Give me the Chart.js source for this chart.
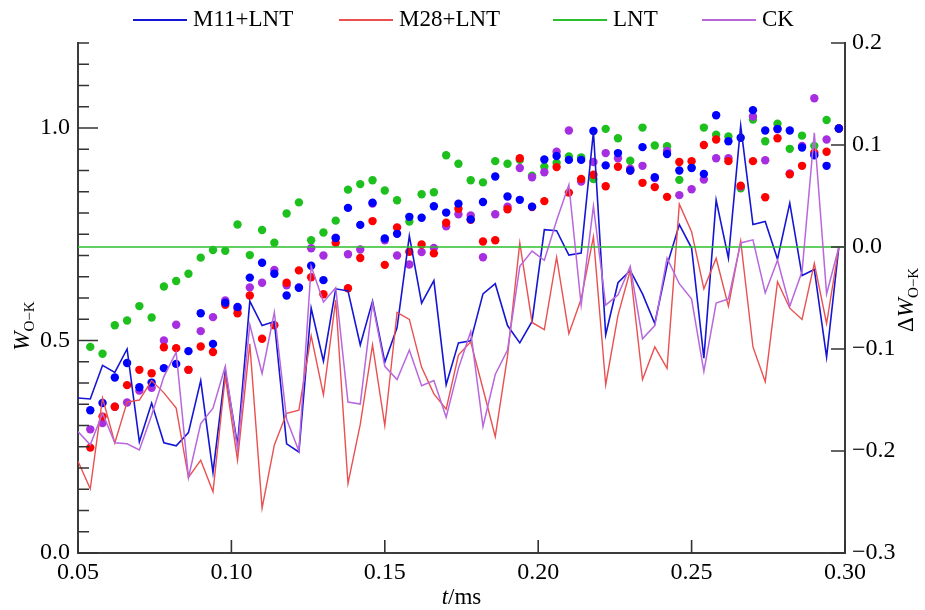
<!DOCTYPE html>
<html>
<head>
<meta charset="utf-8">
<script src="https://cdn.jsdelivr.net/npm/chart.js@4.4.1/dist/chart.umd.min.js"></script>
<style>
  body { margin: 0; background: #fff; }
  #wrap { position: relative; width: 925px; height: 610px; }
  .leg { position: absolute; top: 5px; font: 23px "Liberation Serif", serif; color: #000; line-height: 28px; white-space: nowrap; }
  .leg span { display: inline-block; width: 54px; height: 2px; vertical-align: middle; margin-right: 6px; position: relative; top: -1px; }
</style>
</head>
<body>
<div id="wrap">
  <canvas id="myChart" width="925" height="610"></canvas>
  <div class="leg" style="left:133px"><span style="background:#1515d5"></span>M11+LNT</div>
  <div class="leg" style="left:339px"><span style="background:#ea5050"></span>M28+LNT</div>
  <div class="leg" style="left:553px"><span style="background:#2cbf2c"></span>LNT</div>
  <div class="leg" style="left:702px"><span style="background:#b868dc"></span>CK</div>
</div>
<script>
// t (ms) of the dots
const tDots = [0.054, 0.058, 0.062, 0.066, 0.070, 0.074, 0.078, 0.082, 0.086, 0.090,
  0.094, 0.098, 0.102, 0.106, 0.110, 0.114, 0.118, 0.122, 0.126, 0.130,
  0.134, 0.138, 0.142, 0.146, 0.150, 0.154, 0.158, 0.162, 0.166, 0.170,
  0.174, 0.178, 0.182, 0.186, 0.190, 0.194, 0.198, 0.202, 0.206, 0.210,
  0.214, 0.218, 0.222, 0.226, 0.230, 0.234, 0.238, 0.242, 0.246, 0.250,
  0.254, 0.258, 0.262, 0.266, 0.270, 0.274, 0.278, 0.282, 0.286, 0.290,
  0.294, 0.298];
// the difference curves start one step earlier
const tLine = [0.050].concat(tDots);

// W O-K (left axis)
const wLNT = [0.485, 0.469, 0.536, 0.547, 0.581, 0.554, 0.627, 0.640, 0.657, 0.695,
  0.713, 0.711, 0.773, 0.701, 0.760, 0.730, 0.799, 0.825, 0.736, 0.754,
  0.782, 0.855, 0.868, 0.877, 0.853, 0.830, 0.780, 0.844, 0.849, 0.936,
  0.916, 0.877, 0.872, 0.922, 0.916, 0.925, 0.888, 0.909, 0.918, 0.933,
  0.931, 0.880, 0.998, 0.976, 0.923, 1.001, 0.959, 0.957, 0.878, 0.907,
  1.001, 0.984, 0.980, 0.858, 1.020, 0.969, 1.010, 0.951, 0.982, 0.958,
  1.019, 0.999];
const wM11 = [0.336, 0.353, 0.413, 0.447, 0.390, 0.401, 0.435, 0.445, 0.475, 0.564,
  0.492, 0.589, 0.579, 0.648, 0.683, 0.657, 0.606, 0.624, 0.676, 0.642,
  0.741, 0.812, 0.772, 0.824, 0.740, 0.751, 0.791, 0.789, 0.816, 0.801,
  0.822, 0.785, 0.826, 0.886, 0.839, 0.831, 0.815, 0.926, 0.934, 0.925,
  0.925, 0.993, 0.912, 0.941, 0.900, 0.955, 0.884, 0.939, 0.900, 0.906,
  0.892, 1.030, 0.969, 0.977, 1.042, 0.994, 0.998, 0.994, 0.954, 0.936,
  0.911, 0.999];
const wM28 = [0.248, 0.321, 0.344, 0.395, 0.431, 0.423, 0.484, 0.482, 0.431, 0.486,
  0.473, 0.584, 0.564, 0.606, 0.504, 0.536, 0.636, 0.665, 0.649, 0.609,
  0.730, 0.623, 0.694, 0.781, 0.678, 0.766, 0.709, 0.726, 0.705, 0.777,
  0.810, 0.784, 0.733, 0.736, 0.809, 0.929, 0.814, 0.828, 0.908, 0.848,
  0.880, 0.890, 0.863, 0.909, 0.900, 0.871, 0.861, 0.838, 0.920, 0.922,
  0.960, 0.973, 0.922, 0.864, 0.922, 0.837, 0.976, 0.891, 0.911, 0.942,
  0.944, 0.999];
const wCK = [0.291, 0.306, 0.344, 0.354, 0.382, 0.389, 0.500, 0.537, 0.431, 0.522,
  0.555, 0.594, 0.575, 0.625, 0.636, 0.666, 0.630, 0.625, 0.717, 0.700,
  0.742, 0.703, 0.714, 0.822, 0.736, 0.700, 0.679, 0.708, 0.718, 0.769,
  0.797, 0.794, 0.696, 0.797, 0.815, 0.906, 0.884, 0.896, 0.944, 0.994,
  0.874, 0.920, 0.941, 0.929, 0.904, 0.911, 0.882, 0.946, 0.842, 0.856,
  0.879, 0.929, 0.929, 0.862, 1.027, 0.924, 0.997, 0.893, 0.958, 1.070,
  0.973, 0.999];

// delta W O-K (right axis)
const dM11 = [-0.148, -0.149, -0.116, -0.123, -0.100, -0.191, -0.153, -0.192, -0.195, -0.182, -0.131,
  -0.221, -0.122, -0.194, -0.053, -0.077, -0.073, -0.193, -0.201, -0.060, -0.112,
  -0.041, -0.043, -0.096, -0.053, -0.113, -0.079, 0.011, -0.055, -0.033, -0.135,
  -0.094, -0.092, -0.046, -0.036, -0.077, -0.094, -0.073, 0.017, 0.016, -0.008,
  -0.006, 0.113, -0.086, -0.035, -0.023, -0.046, -0.075, -0.018, 0.022, -0.001,
  -0.109, 0.046, -0.011, 0.119, 0.022, 0.025, -0.012, 0.043, -0.028, -0.022,
  -0.108, 0.000];
const dM28 = [-0.210, -0.237, -0.148, -0.192, -0.152, -0.150, -0.131, -0.143, -0.158, -0.226, -0.209,
  -0.240, -0.127, -0.209, -0.095, -0.256, -0.194, -0.163, -0.160, -0.087, -0.145,
  -0.052, -0.232, -0.174, -0.096, -0.175, -0.064, -0.071, -0.118, -0.144, -0.159,
  -0.106, -0.093, -0.139, -0.186, -0.107, 0.004, -0.074, -0.081, -0.010, -0.085,
  -0.051, 0.010, -0.135, -0.067, -0.023, -0.130, -0.098, -0.119, 0.042, 0.015,
  -0.041, -0.011, -0.058, 0.006, -0.098, -0.132, -0.034, -0.060, -0.071, -0.016,
  -0.075, 0.000];
const dCK = [-0.181, -0.194, -0.163, -0.192, -0.193, -0.199, -0.165, -0.127, -0.103, -0.226, -0.173,
  -0.158, -0.117, -0.198, -0.076, -0.124, -0.064, -0.169, -0.200, -0.019, -0.054,
  -0.040, -0.152, -0.154, -0.055, -0.117, -0.130, -0.101, -0.136, -0.131, -0.167,
  -0.119, -0.083, -0.176, -0.125, -0.101, -0.019, -0.004, -0.013, 0.026, 0.061,
  -0.057, 0.040, -0.057, -0.047, -0.019, -0.090, -0.077, -0.011, -0.036, -0.051,
  -0.122, -0.055, -0.051, 0.004, 0.007, -0.045, -0.013, -0.058, -0.024, 0.112,
  -0.046, 0.000];
const tLNT = [0.05, 0.30];
const dLNT = [0, 0];

const xTicks = [0.05, 0.10, 0.15, 0.20, 0.25, 0.30];

function pts(xs, ys) {
    return xs.map((x, i) => ({ x: x, y: ys[i] }));
}

function dots(label, xs, ys, color, order) {
    return {
        type: 'scatter', label: label, data: pts(xs, ys), yAxisID: 'y',
        backgroundColor: color, borderWidth: 0, pointRadius: 4.2, pointHoverRadius: 4.2,
        order: order
    };
}

function curve(label, xs, ys, color, width, order) {
    return {
        type: 'line', label: label, data: pts(xs, ys), yAxisID: 'y1',
        borderColor: color, borderWidth: width, pointRadius: 0, fill: false,
        tension: 0, order: order
    };
}

const serif = '"Liberation Serif", "Times New Roman", serif';

// tick marks pointing into the plot, and the axis titles
const axisDecor = {
    id: 'axisDecor',
    afterDraw(chart) {
        const ctx = chart.ctx, a = chart.chartArea;
        const sx = chart.scales.x, sy = chart.scales.y, sy1 = chart.scales.y1;
        ctx.save();
        ctx.strokeStyle = '#333';
        ctx.lineWidth = 1.6;
        ctx.beginPath();
        sy.ticks.forEach(t => {
            const y = sy.getPixelForValue(t.value);
            const major = Math.abs(t.value * 2 - Math.round(t.value * 2)) < 1e-6;
            ctx.moveTo(a.left, y);
            ctx.lineTo(a.left + (major ? 20 : 11), y);
        });
        sy1.ticks.forEach(t => {
            const y = sy1.getPixelForValue(t.value);
            ctx.moveTo(a.right, y);
            ctx.lineTo(a.right - 14, y);
        });
        sx.ticks.forEach(t => {
            const x = sx.getPixelForValue(t.value);
            ctx.moveTo(x, a.bottom);
            ctx.lineTo(x, a.bottom - 13);
        });
        ctx.stroke();

        ctx.fillStyle = '#000';
        ctx.textBaseline = 'alphabetic';
        // bottom title
        ctx.font = 'italic 23px ' + serif;
        const tw = ctx.measureText('t').width;
        ctx.font = '23px ' + serif;
        const mw = ctx.measureText('/ms').width;
        let x0 = (a.left + a.right) / 2 - (tw + mw) / 2;
        ctx.font = 'italic 23px ' + serif;
        ctx.fillText('t', x0, 604);
        ctx.font = '23px ' + serif;
        ctx.fillText('/ms', x0 + tw, 604);

        // left and right titles, rotated
        const drawW = (cx, cy, prefix) => {
            ctx.save();
            ctx.translate(cx, cy);
            ctx.rotate(-Math.PI / 2);
            ctx.font = '23px ' + serif;
            const pw = prefix ? ctx.measureText(prefix).width : 0;
            ctx.font = 'italic 23px ' + serif;
            const ww = ctx.measureText('W').width;
            ctx.font = '15px ' + serif;
            const sw = ctx.measureText('O\u2212K').width;
            let x = -(pw + ww + sw) / 2;
            if (prefix) {
                ctx.font = '23px ' + serif;
                ctx.fillText(prefix, x, 0);
                x += pw;
            }
            ctx.font = 'italic 23px ' + serif;
            ctx.fillText('W', x, 0);
            ctx.font = '15px ' + serif;
            ctx.fillText('O\u2212K', x + ww, 5);
            ctx.restore();
        };
        drawW(29, 326, '');
        drawW(913, 300, '\u0394');
        ctx.restore();
    }
};

new Chart(document.getElementById('myChart').getContext('2d'), {
    data: {
        datasets: [
            curve('CK', tLine, dCK, '#b868dc', 1.5, 0),
            curve('LNT', tLNT, dLNT, '#2cbf2c', 1.5, 1),
            curve('M28+LNT', tLine, dM28, '#ea5050', 1.4, 2),
            curve('M11+LNT', tLine, dM11, '#1515d5', 1.6, 3),
            dots('M11+LNT', tDots, wM11, '#0000ff', 4),
            dots('M28+LNT', tDots, wM28, '#ff0000', 5),
            dots('CK', tDots, wCK, '#a62ee0', 6),
            dots('LNT', tDots, wLNT, '#1ec01e', 7)
        ]
    },
    options: {
        responsive: false,
        animation: false,
        layout: { padding: { top: 43, left: 0, right: 0, bottom: 0 } },
        plugins: { legend: { display: false }, tooltip: { enabled: false } },
        scales: {
            x: {
                type: 'linear', min: 0.05, max: 0.30,
                afterBuildTicks: s => { s.ticks = xTicks.map(v => ({ value: v })); },
                afterFit: s => { s.height = 57; },
                ticks: {
                    autoSkip: false, maxRotation: 0, padding: 5, color: '#000',
                    font: { family: serif, size: 24 },
                    callback: v => v.toFixed(2)
                },
                grid: { display: false, drawTicks: false },
                border: { display: true, color: '#3c3c3c', width: 2 }
            },
            y: {
                position: 'left', min: 0, max: 1.2,
                afterFit: s => { s.width = 78; },
                ticks: {
                    stepSize: 0.05, autoSkip: false, padding: 8, color: '#000',
                    font: { family: serif, size: 24 },
                    callback: v => (Math.abs(v * 2 - Math.round(v * 2)) < 1e-6 ? v.toFixed(1) : '')
                },
                grid: { display: false, drawTicks: false },
                border: { display: true, color: '#3c3c3c', width: 2 }
            },
            y1: {
                position: 'right', min: -0.3, max: 0.2,
                afterFit: s => { s.width = 80; },
                ticks: {
                    stepSize: 0.1, autoSkip: false, padding: 7, color: '#000',
                    font: { family: serif, size: 24 },
                    callback: v => (Math.abs(v) < 1e-9 ? '0.0' : (v < 0 ? '\u2212' : '') + Math.abs(v).toFixed(1))
                },
                grid: { display: false, drawTicks: false },
                border: { display: true, color: '#3c3c3c', width: 2 }
            }
        }
    },
    plugins: [axisDecor]
});
</script>
</body>
</html>
